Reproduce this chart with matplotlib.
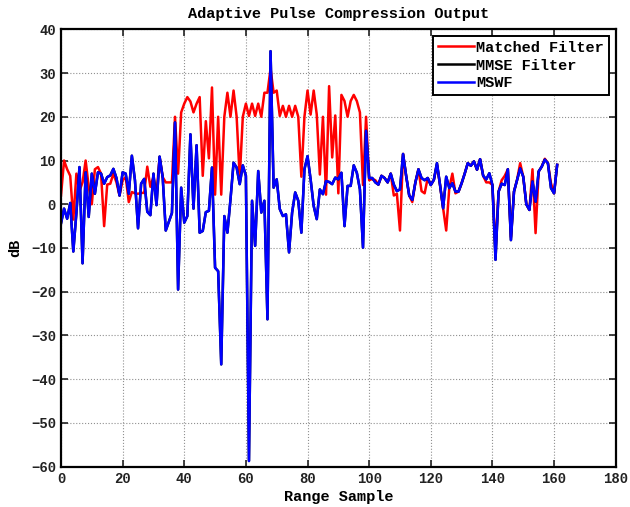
import numpy as np
import matplotlib
matplotlib.use("Agg")
import matplotlib.pyplot as plt

# output levels (dB) read per range sample
matched_db = [
    2, 10, 8, 6.5, -3.5, 7, 3, 5, 10, 4,
    0, 8, 8.5, 7, -5, 4.5, 4.7, 7, 5, 2,
    5.5, 6.2, 0.5, 2.8, 2.5, 2.4, 2.6, 2.6, 8.6, 4,
    6.2, 2.4, 10.7, 6.2, 5, 5, 5, 20, 7, 21,
    23, 24.5, 23.5, 21, 23, 24.5, 6.5, 19, 10.5, 26.7,
    2.2, 20, 2.2, 20, 25.5, 20, 26, 20, 6, 20,
    23, 20.2, 23, 20.2, 23, 20, 25.5, 25.5, 31, 25.5,
    26, 20.2, 22.5, 20, 22.5, 20, 22.5, 20, 6.3, 20,
    26, 20.5, 26, 20.5, 6.8, 20, 2.2, 27, 10.7, 20.3,
    2.5, 25, 23.6, 20, 23.6, 25, 23.6, 21, 4.4, 20,
    5.5, 5.8, 5.5, 4.5, 6.5, 6, 5, 7, 2, 2.4,
    -6, 11.5, 6.5, 2, 0.5, 5, 8, 3, 2.5, 6,
    4.4, 5.6, 9, 4.4, -0.9, -6, 3.7, 7, 2.5, 2.9,
    4.8, 7, 9.4, 8.8, 9.8, 7.9, 10.3, 6.5, 5, 5,
    4.4, -10.5, 2.9, 5.5, 6.5, 8, -7.5, 2.9, 5.6, 9.4,
    6.3, 0, -1.3, 8, -6.6, 7.5, 8.6, 10.4, 9.4, 4.8,
    2.5, 9,
]

mswf_db = [
    -4.4, -1, -3.3, 0.3, -10.8, -2, 8.5, -13.5, 7.3, -2.9,
    7, 2.4, 7.3, 7, 4.7, 6.2, 6.6, 8.1, 6, 2,
    7.3, 7, 2.4, 11.1, 5.5, -5.5, 4.7, 5.8, -1.7, -2.5,
    7, -0.2, 10.9, 6.2, -6, -4, -2, 18.7, -19.5, 3.8,
    -4.2, -2.7, 16, -1, 13.5, -6.5, -6.1, -1.8, -1.5, 8.4,
    -14.5, -15.3, -36.6, -2.7, -6.5, 1.1, 9.5, 8.4, 4.6, 8.9,
    6.5, -58.7, 0.8, -9.5, 7.6, -1.9, 0.8, -26.3, 35, 3.8,
    5.7, -1.1, -2.7, -2.3, -11, -1.9, 2.7, 0.8, -6.5, 8,
    11, 5.7, -0.4, -3.4, 3.4, 2.3, 5.3, 5.1, 4.6, 6.1,
    5.7, 7.2, -5, 4.2, 4.2, 8.9, 7.2, 3.4, -9.9, 16.8,
    6, 6, 5, 4.5, 6.5, 6, 5, 7, 4.5, 3,
    3.4, 11.5, 6.5, 2, 1, 5, 8, 6, 5.5, 6,
    4.4, 5.6, 9.4, 4.4, -0.9, 6.3, 3.7, 4.8, 2.9, 2.9,
    4.8, 7, 9.4, 8.8, 9.8, 7.9, 10.3, 6.5, 5.7, 7.1,
    4.4, -12.7, 2.9, 4.7, 4.4, 8, -8.2, 2.9, 5.6, 8.2,
    6.3, 0, -1.3, 5.2, 0.6, 7.5, 8.6, 10.2, 9.4, 3.7,
    2.5, 9,
]

# MMSE output coincides with MSWF (hidden under the blue line)
mmse_db = mswf_db

x_ticks = [0, 20, 40, 60, 80, 100, 120, 140, 160, 180]
y_ticks = [-60, -50, -40, -30, -20, -10, 0, 10, 20, 30, 40]

plt.rcParams['font.family'] = ['Liberation Mono', 'DejaVu Sans Mono']
plt.rcParams['font.weight'] = 'bold'

fig = plt.figure(figsize=(6.3, 5.07), dpi=100)
ax = fig.add_axes([0.0968, 0.0795, 0.8805, 0.8627])

samples = np.arange(len(matched_db))
ax.plot(samples, matched_db, color='#ff0000', lw=1.8, label='Matched Filter')
ax.plot(samples, mmse_db, color='black', lw=1.8, label='MMSE Filter')
ax.plot(samples, mswf_db, color='#0000ff', lw=1.8, label='MSWF')

ax.set_xlim(0, 180)
ax.set_ylim(-60, 40)
ax.set_xticks(x_ticks)
ax.set_yticks(y_ticks)
ax.grid(True, linestyle=':', color='#909090', linewidth=0.8)
ax.tick_params(direction='in', top=True, right=True, length=5, width=1.2,
               labelsize=10, colors='#222222')
for sp in ax.spines.values():
    sp.set_linewidth(1.6)

ax.set_title('Adaptive Pulse Compression Output', fontsize=11,
             fontweight='bold', pad=8)
ax.set_xlabel('Range Sample', fontsize=11, fontweight='bold', labelpad=3)
ax.set_ylabel('dB', fontsize=11, fontweight='bold', labelpad=6)

leg = ax.legend(loc='upper right', fontsize=11, fancybox=False, framealpha=1,
                edgecolor='black', borderaxespad=0.45, handlelength=2.4,
                labelspacing=0.25, borderpad=0.3, handletextpad=0.15)
leg.get_frame().set_linewidth(1.4)

plt.savefig('out.png')
